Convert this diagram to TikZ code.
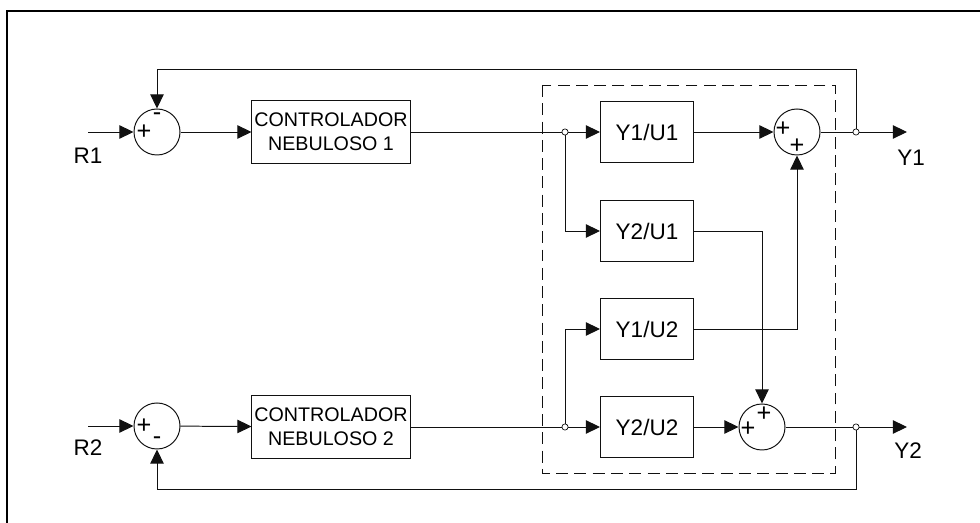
\documentclass[tikz,border=0pt]{standalone}
\usepackage{fontspec}
\setmainfont{Liberation Sans}
\usepackage{tikz}
\usetikzlibrary{arrows.meta,positioning,calc}
\definecolor{inkline}{HTML}{111111}

\begin{document}
\begin{tikzpicture}[
  x=0.025cm, y=-0.025cm,
  line width=0.7pt,
  font=\fontsize{16}{19}\selectfont,
  sumnode/.style={
    draw=inkline,
    circle,
    minimum size=1.15cm,
    inner sep=0pt
  },
  ctrlbox/.style={
    draw=inkline,
    minimum width=3.95cm,
    minimum height=1.55cm,
    align=center,
    inner sep=0pt,
    font=\fontsize{14}{17}\selectfont
  },
  gainbox/.style={
    draw=inkline,
    minimum width=2.325cm,
    minimum height=1.53cm,
    inner sep=0pt
  },
  sign/.style={inner sep=0pt,font=\fontsize{18}{12}\selectfont},
  flow/.style={-{Triangle[length=10pt,width=9.5pt]},draw=inkline},
  pickoff/.style={draw=inkline,line width=0.5pt},
  group/.style={draw=inkline,dash pattern=on 8.5pt off 4.5pt},
  frame/.style={draw=black,line width=1.9pt}
]
  \useasboundingbox (0,0) rectangle (980,523);
  \draw[frame] (7,523) -- (7,11) -- (980,11);

  % main row blocks
  \node[sumnode] (sum1) at (157,132) {};
  \node[sumnode] (sum2) at (157,426) {};
  \node[ctrlbox] (ctrl1) at (331,132) {CONTROLADOR\\NEBULOSO 1};
  \node[ctrlbox] (ctrl2) at (331,427) {CONTROLADOR\\NEBULOSO 2};

  % plant
  \draw[group] (542,85) rectangle (835,473);
  \node[gainbox] (g11) at (647,132) {Y1/U1};
  \node[gainbox] (g21) at (647,231) {Y2/U1};
  \node[gainbox] (g12) at (647,329) {Y1/U2};
  \node[gainbox] (g22) at (647,427) {Y2/U2};
  \node[sumnode] (sum3) at (797,132) {};
  \node[sumnode] (sum4) at (762,427) {};

  % signs
  \node[sign] (s1a) at ($(sum1)+(-13,0)$) {+};
  \node[sign] (s1b) at ($(sum1)+(0,-15)$) {-};
  \node[sign] (s2a) at ($(sum2)+(-13,0)$) {+};
  \node[sign] (s2b) at ($(sum2)+(0,15)$) {-};
  \node[sign] (s3a) at ($(sum3)+(-14,-3)$) {+};
  \node[sign] (s3b) at ($(sum3)+(0,14)$) {+};
  \node[sign] (s4a) at ($(sum4)+(-14,2)$) {+};
  \node[sign] (s4b) at ($(sum4)+(2,-13)$) {+};

  % junctions and ends
  \coordinate (b1) at (565,132);
  \coordinate (b2) at (565,427);
  \coordinate (o1) at (856,132);
  \coordinate (o2) at (856,427);
  \coordinate (in1) at (88,132);
  \coordinate (in2) at (88,426);
  \coordinate (out1) at (907,132);
  \coordinate (out2) at (907,427);
  \coordinate (fb1) at (856,69);
  \coordinate (fb2) at (856,489);

  \node (r1) at (88,156) {R1};
  \node (r2) at (88,448) {R2};
  \node (y1) at (911,158) {Y1};
  \node (y2) at (908,451) {Y2};

  \draw[flow] (in1) -- (sum1);
  \draw[flow] (in2) -- (sum2);
  \draw[flow] (sum1) -- (ctrl1);
  \draw[flow] (sum2) -- (ctrl2);
  \draw[flow] (ctrl1) -- (g11);
  \draw[flow] (ctrl2) -- (g22);
  \draw[flow] (b1) |- (g21);
  \draw[flow] (b2) |- (g12);
  \draw[flow] (g11) -- (sum3);
  \draw[flow] (g22) -- (sum4);
  \draw[flow] (g21) -| (sum4);
  \draw[flow] (g12) -| (sum3);
  \draw[flow] (sum3) -- (out1);
  \draw[flow] (sum4) -- (out2);
  \draw[flow] (o1) -- (fb1) -| (sum1);
  \draw[flow] (o2) -- (fb2) -| (sum2);

  \foreach \p in {b1,b2,o1,o2}
    \draw[pickoff,fill=white] (\p) circle[radius=2.2pt];
\end{tikzpicture}
\end{document}
